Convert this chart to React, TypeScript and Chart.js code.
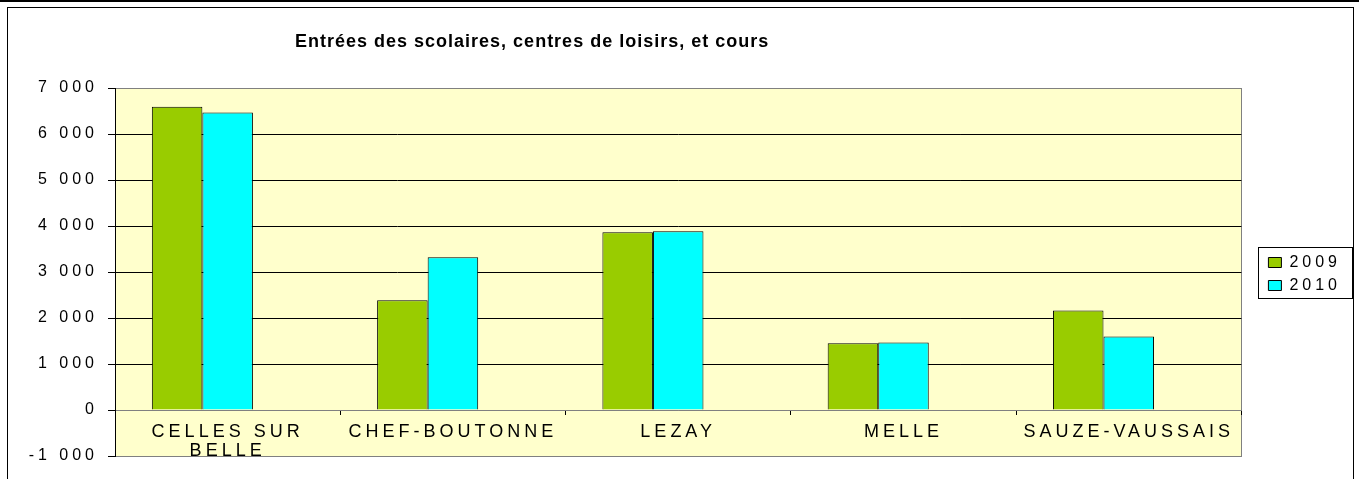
import { useEffect, useRef } from 'react';
import { Chart, registerables } from 'chart.js';

Chart.register(...registerables);

const TITLE = 'Entrées des scolaires, centres de loisirs, et cours';
const categories: (string | string[])[] = [['CELLES SUR', 'BELLE'], 'CHEF-BOUTONNE', 'LEZAY', 'MELLE', 'SAUZE-VAUSSAIS'];
const seriesNames = ['2009', '2010'];
const values2009 = [6590, 2385, 3865, 1450, 2165];
const values2010 = [6465, 3320, 3885, 1470, 1600];
const yMin = -1000;
const yMax = 7000;
const yStep = 1000;

const FONT = "'Liberation Sans', Arial, sans-serif";
const GREEN = '#99CC00';
const CYAN = '#00FFFF';
const PLOT_BG = '#FFFFCC';
const GRAY = '#808080';

function fmt(v: number): string {
  const s = String(Math.abs(v)).replace(/\B(?=(\d{3})+(?!\d))/g, ' ');
  return (v < 0 ? '-' : '') + s;
}

const excelLook = {
  id: 'excelLook',
  beforeUpdate(chart: any) {
    chart.ctx.letterSpacing = '4px';
  },
  afterLayout(chart: any) {
    const lg = chart.legend;
    if (!lg) return;
    lg.left += 20;
    lg.right += 20;
    lg.top += 2;
    lg.bottom += 2;
  },
  beforeDraw(chart: any) {
    const { ctx, chartArea: a } = chart;
    ctx.letterSpacing = '4px';
    ctx.save();
    ctx.fillStyle = PLOT_BG;
    ctx.fillRect(a.left, a.top, a.right - a.left, a.bottom - a.top);
    ctx.strokeStyle = GRAY;
    ctx.lineWidth = 1;
    ctx.strokeRect(Math.round(a.left) + 0.5, Math.round(a.top) + 0.5, Math.round(a.right - a.left), Math.round(a.bottom - a.top));
    ctx.restore();
  },
  afterDraw(chart: any) {
    const { ctx } = chart;
    ctx.save();
    ctx.letterSpacing = '1px';
    ctx.font = `bold 18px ${FONT}`;
    ctx.fillStyle = '#000';
    ctx.textAlign = 'left';
    ctx.textBaseline = 'alphabetic';
    ctx.fillText(TITLE, 295, 47);
    const lg = chart.legend;
    const hb = lg && lg.legendHitBoxes;
    if (hb && hb.length) {
      const first = hb[0];
      const last = hb[hb.length - 1];
      const x0 = Math.round(first.left - 10) + 0.5;
      const y0 = Math.round(first.top - 8) + 0.5;
      const y1 = Math.round(last.top + last.height + 4) + 0.5;
      ctx.strokeStyle = '#000';
      ctx.lineWidth = 1;
      ctx.strokeRect(x0, y0, 94, y1 - y0);
    }
    ctx.restore();
  },
};

export default function App() {
  const ref = useRef<HTMLCanvasElement>(null);
  useEffect(() => {
    const chart = new Chart(ref.current as HTMLCanvasElement, {
      type: 'bar',
      data: {
        labels: categories,
        datasets: [
          { label: seriesNames[0], data: values2009, backgroundColor: GREEN, borderColor: '#000', borderWidth: 1 },
          { label: seriesNames[1], data: values2010, backgroundColor: CYAN, borderColor: '#000', borderWidth: 1 },
          { label: '', data: categories.map(() => null), backgroundColor: 'rgba(0,0,0,0)', borderWidth: 0 },
        ],
      },
      options: {
        responsive: false,
        animation: false,
        events: [],
        layout: { padding: { top: 88, left: 0, right: 28, bottom: 23 } },
        datasets: { bar: { categoryPercentage: 0.673, barPercentage: 1 } },
        plugins: {
          title: { display: false },
          tooltip: { enabled: false },
          legend: {
            position: 'right',
            labels: {
              boxWidth: 13,
              boxHeight: 10,
              padding: 7,
              color: '#000',
              font: { family: FONT, size: 16 },
              filter: (item: any) => item.datasetIndex < 2,
            },
          },
        },
        scales: {
          x: {
            position: { y: 0 },
            grid: { drawOnChartArea: false, drawTicks: true, tickLength: 4, color: '#000' },
            border: { display: true, color: GRAY, width: 1 },
            ticks: {
              color: '#000',
              font: { family: FONT, size: 18, lineHeight: 1.05 },
              padding: 9,
              maxRotation: 0,
              autoSkip: false,
            },
          },
          y: {
            min: yMin,
            max: yMax,
            afterFit: (scale: any) => { scale.width = 115; },
            grid: {
              color: (c: any) => (c.tick && (c.tick.value === yMin || c.tick.value === yMax || c.tick.value === 0) ? GRAY : '#000'),
              tickColor: '#000',
              tickLength: 7,
              lineWidth: 1,
            },
            border: { display: true, color: '#000', width: 1 },
            ticks: {
              stepSize: yStep,
              color: '#000',
              font: { family: FONT, size: 16 },
              padding: 10,
              callback: (v: any) => fmt(Number(v)),
            },
          },
        },
      },
      plugins: [excelLook],
    } as any);
    return () => chart.destroy();
  }, []);

  return (
    <div style={{ position: 'absolute', left: 0, top: 0, width: 1359, height: 479, overflow: 'hidden', background: '#fff' }}>
      <canvas ref={ref} width={1359} height={479} style={{ position: 'absolute', left: 0, top: 0 }} />
      <div style={{ position: 'absolute', left: 0, top: 0, width: 1359, height: 2, background: '#000' }} />
      <div
        style={{
          position: 'absolute',
          left: 7,
          top: 7,
          width: 1345,
          height: 480,
          borderTop: '1px solid #000',
          borderLeft: '1px solid #000',
          borderRight: '1px solid #000',
        }}
      />
    </div>
  );
}
